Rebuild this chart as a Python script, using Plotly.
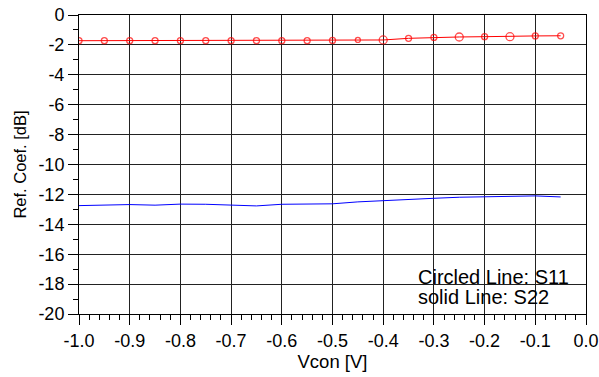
import plotly.graph_objects as go

vcon = [-1.0, -0.95, -0.9, -0.85, -0.8, -0.75, -0.7, -0.65, -0.6, -0.55,
        -0.5, -0.45, -0.4, -0.35, -0.3, -0.25, -0.2, -0.15, -0.1, -0.05]
s11 = [-1.72, -1.72, -1.72, -1.72, -1.72, -1.72, -1.72, -1.72, -1.72, -1.72,
       -1.70, -1.67, -1.67, -1.56, -1.50, -1.47, -1.45, -1.45, -1.40, -1.39]
s22 = [-12.75, -12.72, -12.68, -12.72, -12.65, -12.66, -12.70, -12.77, -12.66, -12.67,
       -12.63, -12.50, -12.41, -12.33, -12.26, -12.19, -12.15, -12.13, -12.10, -12.17]
s11_marker_sizes = [6, 6, 6, 6, 6, 6, 6, 6, 6, 6, 6, 5, 8, 6, 6, 8, 6, 8, 6, 6]

x_ticks = [-1.0, -0.9, -0.8, -0.7, -0.6, -0.5, -0.4, -0.3, -0.2, -0.1, 0.0]
x_labels = ["-1.0", "-0.9", "-0.8", "-0.7", "-0.6", "-0.5", "-0.4", "-0.3", "-0.2", "-0.1", "0.0"]
y_ticks = [0, -2, -4, -6, -8, -10, -12, -14, -16, -18, -20]
y_labels = ["0", "-2", "-4", "-6", "-8", "-10", "-12", "-14", "-16", "-18", "-20"]

FONT = "Liberation Sans, Arial, sans-serif"

fig = go.Figure()
fig.add_trace(go.Scatter(
    x=vcon, y=s22, mode="lines",
    line=dict(color="#0000ff", width=1),
    showlegend=False, name="S22"))
fig.add_trace(go.Scatter(
    x=vcon, y=s11, mode="lines+markers",
    line=dict(color="#ff0000", width=1),
    marker=dict(symbol="circle-open", size=s11_marker_sizes, color="#ff0000",
                line=dict(width=1.3, color="#ff0000")),
    showlegend=False, name="S11"))

fig.add_annotation(x=-0.335, y=-17.55, xref="x", yref="y", text="Circled Line: S11",
                   showarrow=False, xanchor="left", yanchor="middle",
                   font=dict(family=FONT, size=20, color="black"))
fig.add_annotation(x=-0.335, y=-18.85, xref="x", yref="y", text="solid Line: S22",
                   showarrow=False, xanchor="left", yanchor="middle",
                   font=dict(family=FONT, size=20, color="black"))

fig.update_layout(
    width=599, height=377,
    margin=dict(l=79, r=13, t=14.5, b=63, autoexpand=False),
    paper_bgcolor="white", plot_bgcolor="white",
    font=dict(family=FONT, size=18, color="black"),
)
fig.update_xaxes(
    range=[-1.0, 0.0], tickvals=x_ticks, ticktext=x_labels,
    showgrid=True, gridcolor="#222222", gridwidth=1,
    showline=True, linecolor="black", linewidth=1, mirror=True,
    ticks="outside", ticklen=10, tickcolor="black",
    minor=dict(dtick=0.02, ticks="outside", ticklen=5, tickcolor="black", showgrid=False),
    zeroline=False, automargin=False, ticklabeloverflow="allow",
    title=dict(text="Vcon [V]", font=dict(size=18.5), standoff=5),
    tickfont=dict(size=18),
)
fig.update_yaxes(
    range=[-20, 0], tickvals=y_ticks, ticktext=y_labels,
    showgrid=True, gridcolor="#222222", gridwidth=1,
    showline=True, linecolor="black", linewidth=1, mirror=True,
    ticks="outside", ticklen=10, tickcolor="black",
    minor=dict(dtick=1, ticks="outside", ticklen=5, tickcolor="black", showgrid=False),
    zeroline=False, automargin=False, ticklabeloverflow="allow",
    title=dict(text="Ref. Coef. [dB]", font=dict(size=16.5), standoff=7),
    tickfont=dict(size=18),
)

# the page body has a default 8px margin; remove it so the figure sits at (0, 0)
fig.write_html("out.html", config={"displayModeBar": False, "staticPlot": True},
               post_script="document.body.style.margin='0px';")
